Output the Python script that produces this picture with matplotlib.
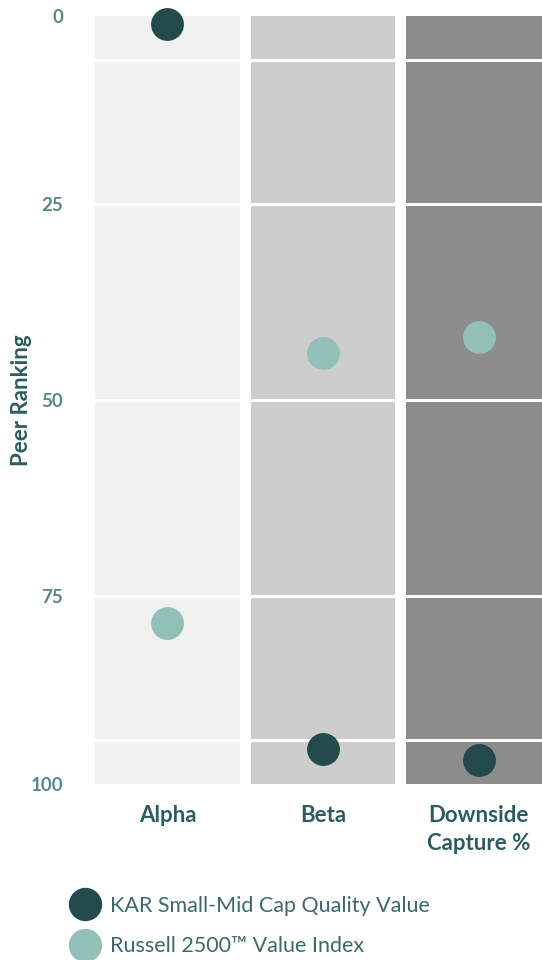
import matplotlib
matplotlib.use("Agg")
import matplotlib.pyplot as plt
from matplotlib.lines import Line2D

categories = ["Alpha", "Beta", "Downside\nCapture %"]
kar_values = [2, 94.5, 96]
russell_values = [78.5, 44, 42]
y_tick_labels = ["0", "25", "50", "75", "100"]
series_names = ["KAR Small-Mid Cap Quality Value", "Russell 2500\u2122 Value Index"]

# styling positions (panel edges and white separator lines)
y_tick_pos = [1, 25, 50, 75, 99]
grid_levels = [6.6, 25, 50, 75, 93.4]

bg_colors = ["#f1f1f1", "#cdcdcd", "#8c8c8c"]
kar_color = "#234a4c"
rus_color = "#93bfb9"
label_color = "#2a5d60"
tick_color = "#548989"

plt.rcParams['font.family'] = ['Lato', 'DejaVu Sans']

fig = plt.figure(figsize=(5.42, 9.6), dpi=100)
ax = fig.add_axes([95/542, 1-784/960, 1-95/542, 768/960])

x = list(range(len(categories)))
ax.bar(x, [100]*3, width=0.93, bottom=0, color=bg_colors, zorder=1)
for g in grid_levels:
    ax.axhline(g, color="white", lw=2.2, zorder=2)

ax.scatter(x, kar_values, s=560, color=kar_color, zorder=4, clip_on=False, linewidths=0)
ax.scatter(x, russell_values, s=560, color=rus_color, zorder=4, clip_on=False, linewidths=0)

ax.set_xlim(-0.465, 2.406)
ax.set_ylim(99, 1)
ax.set_yticks(y_tick_pos)
ax.set_yticklabels(y_tick_labels, fontsize=13.5, fontweight='bold', color=tick_color)
ax.set_xticks(x)
ax.set_xticklabels(categories, fontsize=16, fontweight='bold', color=label_color, linespacing=1.4, va='top')
ax.tick_params(axis='y', length=0, pad=23)
ax.tick_params(axis='x', length=0, pad=15)
for s in ax.spines.values():
    s.set_visible(False)

fig.text(22/542, 1-400/960, "Peer Ranking", rotation=90, ha='center', va='center',
         fontsize=16, fontweight='bold', color=label_color)

handles = [Line2D([], [], marker='o', ls='none', markersize=24, color=kar_color, markeredgewidth=0),
           Line2D([], [], marker='o', ls='none', markersize=24, color=rus_color, markeredgewidth=0)]
leg = fig.legend(handles, series_names, loc='upper left', bbox_to_anchor=(74/542, 1-896/960),
                 frameon=False, fontsize=15.5, handletextpad=0.66, labelspacing=0.94,
                 borderaxespad=0, borderpad=0, handlelength=1.0)
for t in leg.get_texts():
    t.set_color("#3a6a6b")

fig.savefig("out.png", dpi=100)
